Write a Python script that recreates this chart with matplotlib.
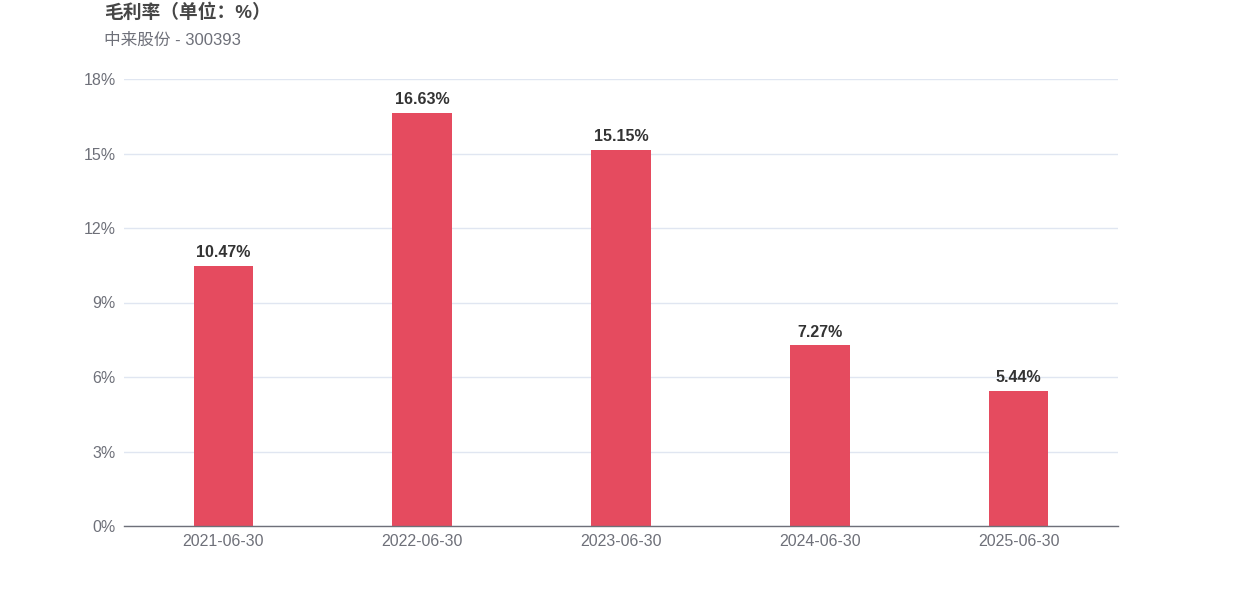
import matplotlib
matplotlib.use("Agg")
import matplotlib.pyplot as plt

plt.rcParams['font.family'] = ['Liberation Sans', 'Noto Sans CJK SC', 'DejaVu Sans']

categories = ['2021-06-30', '2022-06-30', '2023-06-30', '2024-06-30', '2025-06-30']
values = [10.47, 16.63, 15.15, 7.27, 5.44]
yticks = [0, 3, 6, 9, 12, 15, 18]
title = '毛利率（单位：%）'
subtitle = '中来股份 - 300393'

W, H = 1242, 596
fig = plt.figure(figsize=(W / 100, H / 100), dpi=100)
ax = fig.add_axes([124 / W, 70 / H, (1118 - 124) / W, (526 - 79) / H])

x = list(range(len(categories)))
ax.bar(x, values, width=0.3, color='#e54b5f', zorder=3)
for xi, v in zip(x, values):
    ax.annotate(f'{v:.2f}%', (xi, v), xytext=(0, 4), textcoords='offset points',
                ha='center', va='bottom', fontsize=11.5, fontweight='bold', color='#333333')

ax.set_xlim(-0.5, len(categories) - 0.5)
ax.set_ylim(0, 18)
ax.set_yticks(yticks)
ax.set_yticklabels([f'{t}%' for t in yticks])
ax.set_xticks(x)
ax.set_xticklabels(categories)
ax.tick_params(axis='both', length=0, labelsize=11.5, colors='#6e7079')
ax.tick_params(axis='x', pad=6)
ax.tick_params(axis='y', pad=6)
ax.grid(axis='y', color='#e0e6f1', linewidth=1, zorder=0)
for s in ['top', 'right', 'left']:
    ax.spines[s].set_visible(False)
ax.spines['bottom'].set_color('#6e7079')
ax.spines['bottom'].set_linewidth(1)
ax.spines['bottom'].set_zorder(4)

fig.text(104 / W, 1 - 13 / H, title, fontsize=13.5, fontweight='bold', color='#464646',
         ha='left', va='center')
fig.text(104 / W, 1 - 40 / H, subtitle, fontsize=12, color='#6e7079',
         ha='left', va='center')

fig.savefig('out.png', dpi=100)
